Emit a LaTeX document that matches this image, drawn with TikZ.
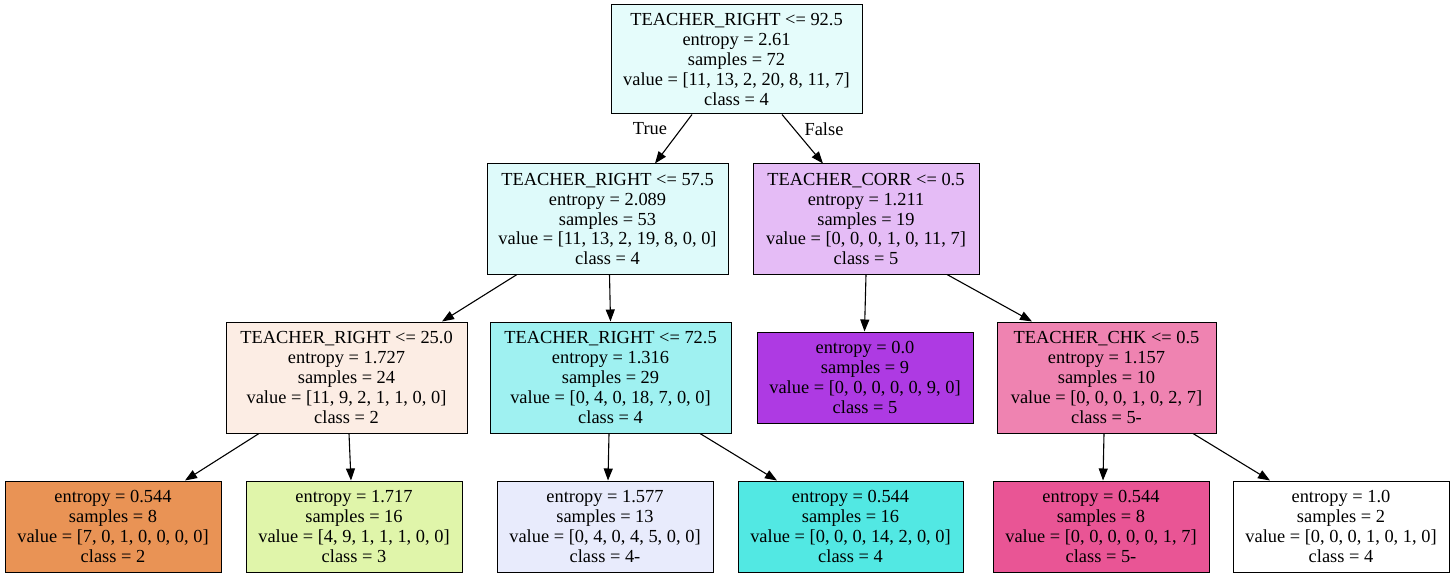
\documentclass[tikz,border=0pt]{standalone}
\usepackage{fontspec}
\setmainfont{Liberation Serif}
\usetikzlibrary{arrows.meta}
\definecolor{cRoot}{RGB}{229,252,251}
\definecolor{cNa}{RGB}{222,250,250}
\definecolor{cNb}{RGB}{229,188,246}
\definecolor{cA}{RGB}{252,237,228}
\definecolor{cB}{RGB}{159,241,241}
\definecolor{cC}{RGB}{174,58,227}
\definecolor{cD}{RGB}{239,131,177}
\definecolor{cLa}{RGB}{233,147,85}
\definecolor{cLb}{RGB}{224,245,170}
\definecolor{cLc}{RGB}{232,235,252}
\definecolor{cLd}{RGB}{82,232,227}
\definecolor{cLe}{RGB}{233,85,149}
\definecolor{cLf}{RGB}{255,255,255}
\tikzset{
  tn/.style={draw=black, line width=1pt, inner sep=0pt, align=center, anchor=center,
    font=\fontsize{18.4}{19.8}\selectfont},
  edge/.style={line width=1.1pt, -{Triangle[length=12pt,width=9pt]}},
  elab/.style={font=\fontsize{18.4}{19.8}\selectfont, inner sep=0pt}
}
\begin{document}
\begin{tikzpicture}[x=1pt,y=-1pt]
\useasboundingbox (0,0) rectangle (1455,577);
% level 1
\node[tn, fill=cRoot, minimum width=251pt, minimum height=109pt] (root) at (736.5,59.5)
  {TEACHER\_RIGHT <= 92.5\\entropy = 2.61\\samples = 72\\value = [11, 13, 2, 20, 8, 11, 7]\\class = 4};
% level 2
\node[tn, fill=cNa, minimum width=241pt, minimum height=110pt] (n1) at (607.5,219)
  {TEACHER\_RIGHT <= 57.5\\entropy = 2.089\\samples = 53\\value = [11, 13, 2, 19, 8, 0, 0]\\class = 4};
\node[tn, fill=cNb, minimum width=226pt, minimum height=110pt] (n2) at (866,219)
  {TEACHER\_CORR <= 0.5\\entropy = 1.211\\samples = 19\\value = [0, 0, 0, 1, 0, 11, 7]\\class = 5};
% level 3
\node[tn, fill=cA, minimum width=241pt, minimum height=111pt] (A) at (346.5,377.5)
  {TEACHER\_RIGHT <= 25.0\\entropy = 1.727\\samples = 24\\value = [11, 9, 2, 1, 1, 0, 0]\\class = 2};
\node[tn, fill=cB, minimum width=241pt, minimum height=111pt] (B) at (610.5,377.5)
  {TEACHER\_RIGHT <= 72.5\\entropy = 1.316\\samples = 29\\value = [0, 4, 0, 18, 7, 0, 0]\\class = 4};
\node[tn, fill=cC, minimum width=216pt, minimum height=91pt] (C) at (865,377.5)
  {entropy = 0.0\\samples = 9\\value = [0, 0, 0, 0, 0, 9, 0]\\class = 5};
\node[tn, fill=cD, minimum width=219pt, minimum height=111pt] (D) at (1106.5,377.5)
  {TEACHER\_CHK <= 0.5\\entropy = 1.157\\samples = 10\\value = [0, 0, 0, 1, 0, 2, 7]\\class = 5-};
% level 4
\node[tn, fill=cLa, minimum width=216pt, minimum height=91pt] (l1) at (113,526.5)
  {entropy = 0.544\\samples = 8\\value = [7, 0, 1, 0, 0, 0, 0]\\class = 2};
\node[tn, fill=cLb, minimum width=216pt, minimum height=91pt] (l2) at (354,526.5)
  {entropy = 1.717\\samples = 16\\value = [4, 9, 1, 1, 1, 0, 0]\\class = 3};
\node[tn, fill=cLc, minimum width=216pt, minimum height=91pt] (l3) at (605,526.5)
  {entropy = 1.577\\samples = 13\\value = [0, 4, 0, 4, 5, 0, 0]\\class = 4-};
\node[tn, fill=cLd, minimum width=225pt, minimum height=91pt] (l4) at (850.5,526.5)
  {entropy = 0.544\\samples = 16\\value = [0, 0, 0, 14, 2, 0, 0]\\class = 4};
\node[tn, fill=cLe, minimum width=216pt, minimum height=91pt] (l5) at (1101,526.5)
  {entropy = 0.544\\samples = 8\\value = [0, 0, 0, 0, 0, 1, 7]\\class = 5-};
\node[tn, fill=cLf, minimum width=216pt, minimum height=91pt] (l6) at (1341,526.5)
  {entropy = 1.0\\samples = 2\\value = [0, 0, 0, 1, 0, 1, 0]\\class = 4};
% edges
\draw[edge] ([xshift=-44.5pt]root.south) -- ([xshift=47.5pt]n1.north);
\draw[edge] ([xshift=45.5pt]root.south) -- ([xshift=-43pt]n2.north);
\draw[edge] ([xshift=-90.5pt]n1.south) -- ([xshift=95.5pt]A.north);
\draw[edge] ([xshift=2pt]n1.south) -- ([xshift=0pt]B.north);
\draw[edge] ([xshift=0pt]n2.south) -- ([xshift=-0.5pt]C.north);
\draw[edge] ([xshift=81pt]n2.south) -- ([xshift=-74.5pt]D.north);
\draw[edge] ([xshift=-87.5pt]A.south) -- ([xshift=72pt]l1.north);
\draw[edge] ([xshift=2.5pt]A.south) -- ([xshift=-3pt]l2.north);
\draw[edge] ([xshift=-1.5pt]B.south) -- ([xshift=3pt]l3.north);
\draw[edge] ([xshift=89.5pt]B.south) -- ([xshift=-73.5pt]l4.north);
\draw[edge] ([xshift=-2.5pt]D.south) -- ([xshift=2pt]l5.north);
\draw[edge] ([xshift=86.5pt]D.south) -- ([xshift=-71pt]l6.north);
% edge labels
\node[elab] (ltrue) at (650,129) {True};
\node[elab] (lfalse) at (824,129) {False};
\end{tikzpicture}
\end{document}
